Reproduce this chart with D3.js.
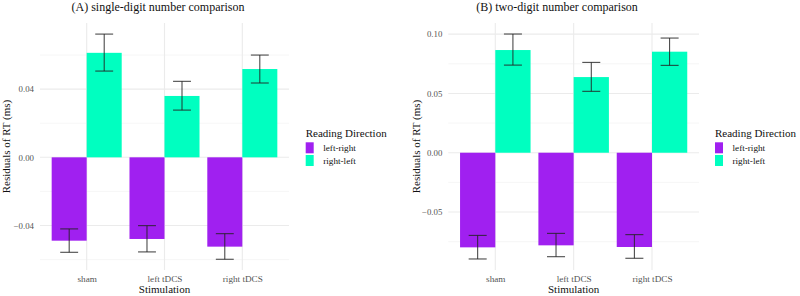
<!DOCTYPE html>
<html>
<head>
<meta charset="utf-8">
<script src="https://cdn.jsdelivr.net/npm/d3@7"></script>
<style>
  body { margin: 0; background: #fff; }
  svg text { font-family: "Liberation Serif", "Times New Roman", serif; }
</style>
</head>
<body>
<div id="chart"></div>
<script>
//data
var stimulation = ["sham", "left tDCS", "right tDCS"];
var directions = ["left-right", "right-left"];
var dirColors = ["#A020F0", "#00FFC0"];

//panel A: single-digit
var singleLR = [-0.0489, -0.0479, -0.0524];
var singleLRlo = [-0.0557, -0.0555, -0.0598];
var singleLRhi = [-0.0420, -0.0401, -0.0448];
var singleRL = [0.0613, 0.0360, 0.0518];
var singleRLlo = [0.0506, 0.0277, 0.0436];
var singleRLhi = [0.0723, 0.0446, 0.0600];
var singleTicks = [-0.04, 0.00, 0.04];
var singleMinor = [-0.06, -0.02, 0.02, 0.06];

//panel B: two-digit
var twoLR = [-0.0798, -0.0781, -0.0795];
var twoLRlo = [-0.0896, -0.0877, -0.0890];
var twoLRhi = [-0.0697, -0.0680, -0.0691];
var twoRL = [0.0866, 0.0638, 0.0852];
var twoRLlo = [0.0739, 0.0518, 0.0737];
var twoRLhi = [0.1001, 0.0762, 0.0967];
var twoTicks = [-0.05, 0.00, 0.05, 0.10];
var twoMinor = [-0.075, -0.025, 0.025, 0.075];

var width = 800, height = 296;
var serif = "Liberation Serif";

var svg = d3.select("#chart").append("svg")
    .attr("width", width)
    .attr("height", height)
    .attr("font-family", serif);

function drawPanel(opts) {
  var g = svg.append("g");

  var x = d3.scalePoint()
      .domain(stimulation)
      .range([opts.left, opts.right])
      .padding(0.6);
  var step = x.step();

  var y = d3.scaleLinear()
      .domain(opts.yDomain)
      .range([opts.bottom, opts.top]);

  var dodge = d3.scaleBand()
      .domain(directions)
      .range([-0.45 * step, 0.45 * step]);

  var color = d3.scaleOrdinal().domain(directions).range(dirColors);

  //minor grid
  g.selectAll(".minor")
      .data(opts.minor)
    .enter().append("line")
      .attr("x1", opts.left).attr("x2", opts.right)
      .attr("y1", function(d) { return y(d); })
      .attr("y2", function(d) { return y(d); })
      .attr("stroke", "#f0f0f0")
      .attr("stroke-width", 0.6);

  //major grid
  g.selectAll(".major")
      .data(opts.ticks)
    .enter().append("line")
      .attr("x1", opts.left).attr("x2", opts.right)
      .attr("y1", function(d) { return y(d); })
      .attr("y2", function(d) { return y(d); })
      .attr("stroke", "#ebebeb")
      .attr("stroke-width", 1.1);

  g.selectAll(".vgrid")
      .data(stimulation)
    .enter().append("line")
      .attr("x1", function(d) { return x(d); })
      .attr("x2", function(d) { return x(d); })
      .attr("y1", opts.top).attr("y2", opts.bottom)
      .attr("stroke", "#ebebeb")
      .attr("stroke-width", 1.1);

  //build rows
  var rows = [];
  stimulation.forEach(function(s, i) {
    rows.push({ stim: s, dir: directions[0], v: opts.lr[i], lo: opts.lrLo[i], hi: opts.lrHi[i] });
    rows.push({ stim: s, dir: directions[1], v: opts.rl[i], lo: opts.rlLo[i], hi: opts.rlHi[i] });
  });

  g.selectAll(".bar")
      .data(rows)
    .enter().append("rect")
      .attr("x", function(d) { return x(d.stim) + dodge(d.dir); })
      .attr("width", dodge.bandwidth())
      .attr("y", function(d) { return y(Math.max(0, d.v)); })
      .attr("height", function(d) { return Math.abs(y(d.v) - y(0)); })
      .attr("fill", function(d) { return color(d.dir); });

  //error bars
  var capW = 0.23 * step;
  var eb = g.selectAll(".err")
      .data(rows)
    .enter().append("g")
      .attr("stroke", "#222")
      .attr("stroke-width", 0.9)
      .attr("transform", function(d) {
        return "translate(" + (x(d.stim) + dodge(d.dir) + dodge.bandwidth() / 2) + ",0)";
      });
  eb.append("line")
      .attr("x1", 0).attr("x2", 0)
      .attr("y1", function(d) { return y(d.lo); })
      .attr("y2", function(d) { return y(d.hi); });
  eb.append("line")
      .attr("x1", -capW / 2).attr("x2", capW / 2)
      .attr("y1", function(d) { return y(d.lo); })
      .attr("y2", function(d) { return y(d.lo); });
  eb.append("line")
      .attr("x1", -capW / 2).attr("x2", capW / 2)
      .attr("y1", function(d) { return y(d.hi); })
      .attr("y2", function(d) { return y(d.hi); });

  //axes (text only, theme_minimal style)
  var yAxis = g.append("g")
      .attr("transform", "translate(" + (opts.left - 2) + ",0)")
      .call(d3.axisLeft(y).tickValues(opts.ticks).tickSize(0).tickPadding(4)
        .tickFormat(opts.fmt))
      .attr("font-family", serif)
      .attr("font-size", 8.8);
  yAxis.select(".domain").remove();
  yAxis.selectAll("text").attr("fill", "#555");

  var xAxis = g.append("g")
      .attr("transform", "translate(0," + opts.bottom + ")")
      .call(d3.axisBottom(x).tickSize(0).tickPadding(5))
      .attr("font-family", serif)
      .attr("font-size", 9.2);
  xAxis.select(".domain").remove();
  xAxis.selectAll("text").attr("fill", "#555");

  //titles
  g.append("text")
      .attr("x", opts.titleX)
      .attr("y", 10.5)
      .attr("text-anchor", "middle")
      .attr("fill", "#111")
      .attr("font-family", serif)
      .attr("font-size", 12)
      .text(opts.title);

  g.append("text")
      .attr("x", (opts.left + opts.right) / 2)
      .attr("y", 293)
      .attr("text-anchor", "middle")
      .attr("fill", "#111")
      .attr("font-family", serif)
      .attr("font-size", 11)
      .text("Stimulation");

  g.append("text")
      .attr("transform", "translate(" + opts.yTitleX + "," + ((opts.top + opts.bottom) / 2) + ") rotate(-90)")
      .attr("text-anchor", "middle")
      .attr("fill", "#111")
      .attr("font-family", serif)
      .attr("font-size", 11)
      .text("Residuals of RT (ms)");

  //legend
  var leg = g.append("g")
      .attr("transform", "translate(" + opts.legendX + ",0)")
      .attr("font-family", serif);
  leg.append("text")
      .attr("x", 0).attr("y", 136.5)
      .attr("fill", "#111")
      .attr("font-size", 11)
      .text("Reading Direction");
  var items = leg.selectAll(".key")
      .data(directions)
    .enter().append("g")
      .attr("transform", function(d, i) { return "translate(0," + (142.3 + i * 12.7) + ")"; });
  items.append("rect")
      .attr("width", 8).attr("height", 11)
      .attr("fill", function(d) { return color(d); });
  items.append("text")
      .attr("x", 17.5).attr("y", 8.5)
      .attr("fill", "#111")
      .attr("font-size", 9.2)
      .text(function(d) { return d; });
}

drawPanel({
  left: 40, right: 289, top: 23, bottom: 270,
  yDomain: [-0.0661, 0.0788],
  ticks: singleTicks, minor: singleMinor,
  fmt: d3.format(".2f"),
  lr: singleLR, lrLo: singleLRlo, lrHi: singleLRhi,
  rl: singleRL, rlLo: singleRLlo, rlHi: singleRLhi,
  title: "(A) single-digit number comparison", titleX: 158,
  yTitleX: 9.5, legendX: 305.7
});

drawPanel({
  left: 448.3, right: 699, top: 23, bottom: 270,
  yDomain: [-0.0989, 0.1094],
  ticks: twoTicks, minor: twoMinor,
  fmt: d3.format(".2f"),
  lr: twoLR, lrLo: twoLRlo, lrHi: twoLRhi,
  rl: twoRL, rlLo: twoRLlo, rlHi: twoRLhi,
  title: "(B) two-digit number comparison", titleX: 557,
  yTitleX: 419.5, legendX: 715
});
</script>
</body>
</html>
